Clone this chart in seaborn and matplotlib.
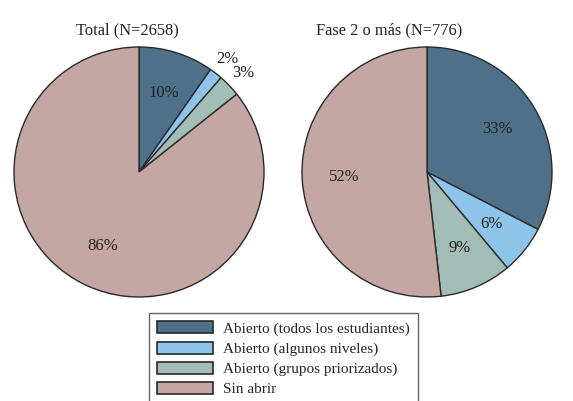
import numpy as np
import matplotlib
matplotlib.use("Agg")
import matplotlib.pyplot as plt
import matplotlib.patches as mpatches
import seaborn as sns

# Datos
categorias = ["Abierto (todos los estudiantes)", "Abierto (algunos niveles)",
              "Abierto (grupos priorizados)", "Sin abrir"]
total_vals = [9.7, 1.7, 2.9, 85.7]
total_labels = ["10%", "2%", "3%", "86%"]
fase2_vals = [32.6, 6.3, 9.3, 51.8]
fase2_labels = ["33%", "6%", "9%", "52%"]
titulos = ["Total (N=2658)", "Fase 2 o más (N=776)"]

colores = ["#4e7089", "#8fc4ea", "#a2bdb5", "#c4a6a2"]
borde = "#2a2a2a"

sns.set_style("white")
plt.rcParams["font.family"] = ["Liberation Serif", "DejaVu Serif"]

W, H = 573, 401
fig = plt.figure(figsize=(W / 100, H / 100), dpi=100)

R = 125      # radio en pixeles
LIM = 1.1


def pie_axes(cx, cy):
    half = R * LIM
    return fig.add_axes([(cx - half) / W, (H - cy - half) / H, 2 * half / W, 2 * half / H])


def draw_pie(ax, vals, labels, outside=()):
    ax.pie(vals, startangle=90, counterclock=False, colors=colores,
           wedgeprops=dict(edgecolor=borde, linewidth=1.0))
    ang = 90.0
    tot = sum(vals)
    for i, (v, lab) in enumerate(zip(vals, labels)):
        mid = ang - 360.0 * v / tot / 2
        ang -= 360.0 * v / tot
        r = 1.15 if i in outside else 0.66
        x = r * np.cos(np.deg2rad(mid))
        y = r * np.sin(np.deg2rad(mid))
        ax.text(x, y, lab, ha="center", va="center", fontsize=12, color="#222222")
    ax.set_xlim(-LIM, LIM)
    ax.set_ylim(-LIM, LIM)
    ax.set_aspect("equal")
    ax.axis("off")


ax1 = pie_axes(139, 172)
draw_pie(ax1, total_vals, total_labels, outside=(1, 2))
ax2 = pie_axes(427, 172)
draw_pie(ax2, fase2_vals, fase2_labels)

fig.text(127 / W, 1 - 30 / H, titulos[0], ha="center", va="center", fontsize=11.8, color="#222222")
fig.text(389 / W, 1 - 30 / H, titulos[1], ha="center", va="center", fontsize=11.8, color="#222222")

handles = [mpatches.Patch(facecolor=c, edgecolor=borde, linewidth=1.2, label=l)
           for c, l in zip(colores, categorias)]
leg = fig.legend(handles=handles, loc="upper left", bbox_to_anchor=(149 / W, 1 - 313 / H),
                 borderaxespad=0, fontsize=11, handlelength=3.66, handleheight=0.83,
                 labelspacing=0.37, handletextpad=0.65, borderpad=0.55,
                 fancybox=False, framealpha=1)
leg.get_frame().set_edgecolor("#666666")
leg.get_frame().set_linewidth(1.0)

fig.savefig("out.png", dpi=100)
